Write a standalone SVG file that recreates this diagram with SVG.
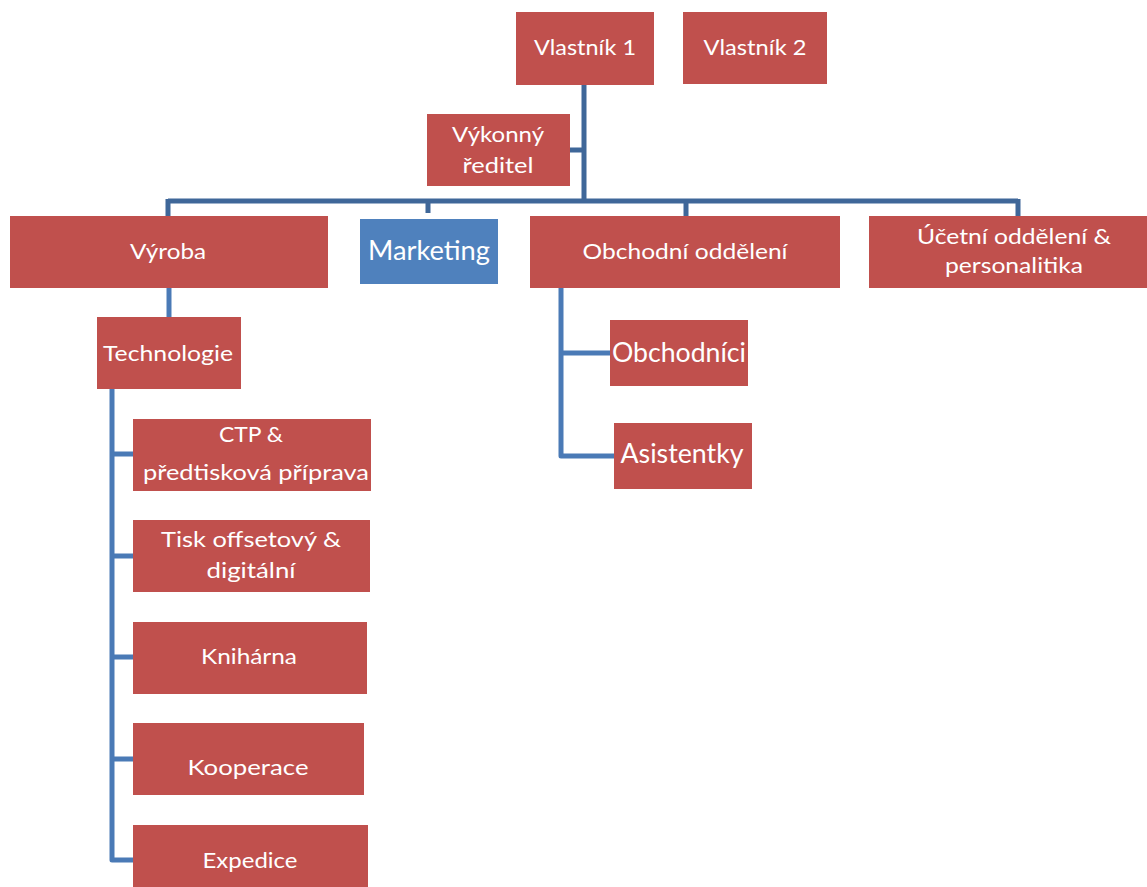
<svg xmlns="http://www.w3.org/2000/svg" width="1147" height="887" viewBox="0 0 1147 887">
<style>
.n{fill:#C0504D}
.b{fill:#4F81BD}
.t{font-family:Lato,"Open Sans","Liberation Sans",sans-serif;font-size:22px;fill:#fff;text-anchor:middle}
.l{font-size:26px}
.c1{stroke:#3F6799;stroke-width:5;fill:none}
.c2{stroke:#4A7AB6;stroke-width:5;fill:none;stroke-linejoin:round}
</style>
<rect width="1147" height="887" fill="#fff"/>
<g id="connectors">
<path class="c1" d="M584,85 V201 M570,150 H584 M168,201 H1018 M168,199 V216 M428,199 V213 M686,199 V216 M1018,199 V216"/>
<path class="c2" d="M169,288 V317"/>
<path class="c2" d="M112,389 V860 H133 M112,454 H133 M112,556 H133 M112,657 H133 M112,759 H133"/>
<path class="c2" d="M561,288 V456 H614 M561,353 H610"/>
</g>
<g id="vlastnik1"><rect class="n" x="516" y="12" width="138" height="73"/><text class="t" x="585" y="55" textLength="102" lengthAdjust="spacingAndGlyphs">Vlastník 1</text></g>
<g id="vlastnik2"><rect class="n" x="683" y="12" width="144" height="72"/><text class="t" x="755" y="55" textLength="103" lengthAdjust="spacingAndGlyphs">Vlastník 2</text></g>
<g id="reditel"><rect class="n" x="427" y="114" width="143" height="72"/><text class="t" x="498" y="142" textLength="92" lengthAdjust="spacingAndGlyphs">Výkonný</text><text class="t" x="498" y="173" textLength="71" lengthAdjust="spacingAndGlyphs">ředitel</text></g>
<g id="vyroba"><rect class="n" x="10" y="216" width="318" height="72"/><text class="t" x="168" y="259" textLength="76" lengthAdjust="spacingAndGlyphs">Výroba</text></g>
<g id="marketing"><rect class="b" x="360" y="219" width="138" height="65"/><text class="t l" x="429" y="260" textLength="122" lengthAdjust="spacingAndGlyphs">Marketing</text></g>
<g id="obchodni"><rect class="n" x="530" y="216" width="310" height="72"/><text class="t" x="685" y="259" textLength="205" lengthAdjust="spacingAndGlyphs">Obchodní oddělení</text></g>
<g id="ucetni"><rect class="n" x="869" y="216" width="278" height="72"/><text class="t" x="1014" y="244" textLength="194" lengthAdjust="spacingAndGlyphs">Účetní oddělení &amp;</text><text class="t" x="1014" y="273" textLength="138" lengthAdjust="spacingAndGlyphs">personalitika</text></g>
<g id="technologie"><rect class="n" x="97" y="317" width="144" height="72"/><text class="t" x="168" y="361" textLength="130" lengthAdjust="spacingAndGlyphs">Technologie</text></g>
<g id="obchodnici"><rect class="n" x="610" y="320" width="138" height="66"/><text class="t l" x="679" y="362" textLength="134" lengthAdjust="spacingAndGlyphs">Obchodníci</text></g>
<g id="asistentky"><rect class="n" x="614" y="423" width="138" height="66"/><text class="t l" x="682" y="463" textLength="123" lengthAdjust="spacingAndGlyphs">Asistentky</text></g>
<g id="ctp"><rect class="n" x="133" y="419" width="238" height="72"/><text class="t" x="251" y="442" textLength="64" lengthAdjust="spacingAndGlyphs">CTP &amp;</text><text class="t" x="256" y="480" textLength="226" lengthAdjust="spacingAndGlyphs">předtisková příprava</text></g>
<g id="tisk"><rect class="n" x="133" y="520" width="237" height="72"/><text class="t" x="251" y="547" textLength="180" lengthAdjust="spacingAndGlyphs">Tisk offsetový &amp;</text><text class="t" x="251" y="578" textLength="89" lengthAdjust="spacingAndGlyphs">digitální</text></g>
<g id="kniharna"><rect class="n" x="133" y="622" width="234" height="72"/><text class="t" x="249" y="664" textLength="96" lengthAdjust="spacingAndGlyphs">Knihárna</text></g>
<g id="kooperace"><rect class="n" x="133" y="723" width="231" height="72"/><text class="t" x="248" y="775" textLength="121" lengthAdjust="spacingAndGlyphs">Kooperace</text></g>
<g id="expedice"><rect class="n" x="133" y="825" width="235" height="62"/><text class="t" x="250" y="868" textLength="95" lengthAdjust="spacingAndGlyphs">Expedice</text></g>
</svg>
